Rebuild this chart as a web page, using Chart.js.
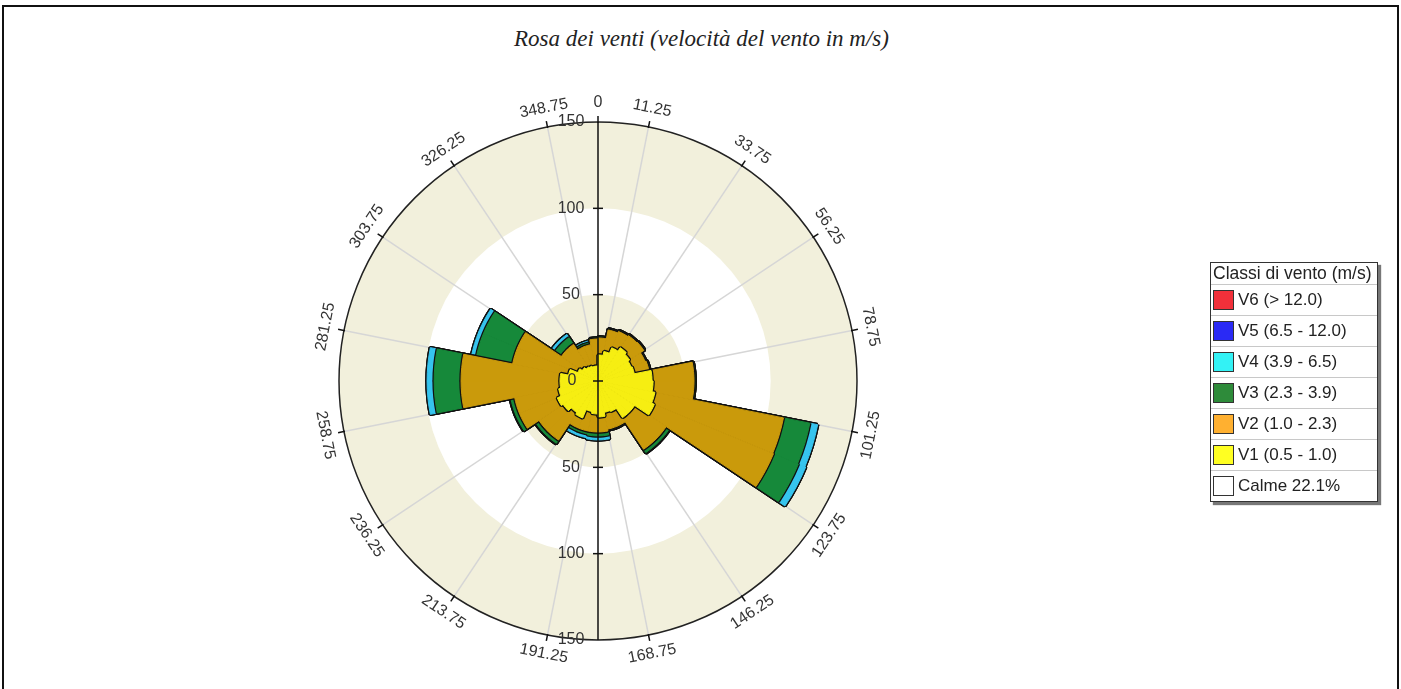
<!DOCTYPE html>
<html lang="it">
<head>
<meta charset="UTF-8">
<title>Rosa dei venti</title>
<script src="https://cdn.jsdelivr.net/npm/chart.js"></script>
<style>
    html, body { margin: 0; padding: 0; background: #fff; }
    body { width: 1401px; height: 689px; overflow: hidden; position: relative; font-family: "Liberation Sans", Arial, sans-serif; }
    #frame { position: absolute; left: 2px; top: 5px; width: 1393px; height: 720px; border: 2px solid #111; }
    #title { position: absolute; left: 1px; top: 26px; width: 1401px; text-align: center; line-height: 27px;
             font: italic 23px "Liberation Serif", "Times New Roman", serif; color: #222; }
    #chart-box { position: absolute; left: 0; top: 0; width: 1401px; height: 689px; }
    #legend { position: absolute; left: 1210px; top: 262px; width: 166px; background: #fff;
              border: 1px solid #333; box-shadow: 3px 3px 1px #777; font-size: 17px; color: #222; }
    #legend .lg-title { height: 21px; line-height: 20px; padding-left: 2px; white-space: nowrap; font-size: 17.5px; }
    #legend .lg-row { height: 30px; border-top: 1px solid #c8c8c8; display: flex; align-items: center; white-space: nowrap; }
    #legend .sw { width: 19px; height: 18px; border: 1px solid #333; margin: 0 4px 0 2px; }
</style>
</head>
<body>
<div id="frame"></div>
<div id="title">Rosa dei venti (velocità del vento in m/s)</div>
<div id="chart-box"><canvas id="rose"></canvas></div>
<div id="legend">
    <div class="lg-title">Classi di vento (m/s)</div>
    <div id="legend-rows"></div>
</div>

<script>
// 32 settori da 11.25 gradi, il primo parte da 348.75
const angleLabels = ['348.75', '0', '11.25', '', '33.75', '', '56.25', '', '78.75', '', '101.25', '',
    '123.75', '', '146.25', '', '168.75', '', '191.25', '', '213.75', '', '236.25', '',
    '258.75', '', '281.25', '', '303.75', '', '326.25', ''];
const radialTicks = [0, 50, 100, 150];

const v1 = [8.7, 15.1, 17.4, 20.8, 23.2, 22.0, 20.8, 21.4, 31.3, 31.9, 33.6, 35.3, 25.5, 25.5, 19.1, 18.5,
    20.8, 19.1, 18.0, 23.2, 22.0, 24.3, 25.5, 23.2, 22.0, 22.0, 17.4, 12.7, 11.0, 9.8, 9.3, 8.7];
const v2 = [15.6, 9.8, 12.7, 10.2, 8.4, 9.9, 8.7, 8.7, 24.3, 23.7, 75.9, 74.7, 22.0, 22.0, 9.3, 9.9,
    8.7, 10.4, 11.5, 6.3, 19.1, 16.8, 23.7, 26.0, 57.3, 57.3, 33.0, 37.7, 14.5, 15.7, 12.1, 12.7];
const v3 = [0.6, 0.6, 0.6, 0.6, 0.6, 0.6, 0.6, 0.6, 0.6, 0.6, 15.6, 15.6, 2.3, 2.3, 0.6, 0.6,
    2.3, 2.3, 1.7, 1.7, 2.3, 2.3, 2.3, 2.3, 15.6, 15.6, 21.4, 21.4, 4.6, 4.6, 1.2, 1.2];
const v4 = [0, 0, 0, 0, 0, 0, 0, 0, 0, 0, 4.6, 4.6, 0.3, 0.3, 0, 0,
    2.3, 2.3, 2.3, 2.3, 0.3, 0.3, 0.3, 0.3, 4.1, 4.1, 2.9, 2.9, 2.3, 2.3, 1.2, 1.2];
const v5 = [0, 0, 0, 0, 0, 0, 0, 0, 0, 0, 0, 0, 0, 0, 0, 0,
    0, 0, 0, 0, 0, 0, 0, 0, 0, 0, 0, 0, 0, 0, 0, 0];
const v6 = [0, 0, 0, 0, 0, 0, 0, 0, 0, 0, 0, 0, 0, 0, 0, 0,
    0, 0, 0, 0, 0, 0, 0, 0, 0, 0, 0, 0, 0, 0, 0, 0];
const classNames = ['V1 (0.5 - 1.0)', 'V2 (1.0 - 2.3)', 'V3 (2.3 - 3.9)', 'V4 (3.9 - 6.5)', 'V5 (6.5 - 12.0)', 'V6 (> 12.0)'];
const calmPercent = 22.1;

const fillColors = ['#f6ee12', '#ca9a0b', '#16893a', '#36c4ee', '#2222ee', '#ee2a2a'];
const legendColors = ['#ffff22', '#ffb030', '#2e8b3a', '#33f2f5', '#2a2af5', '#f2303a'];

// legenda
const rows = document.getElementById('legend-rows');
for (let k = classNames.length - 1; k >= 0; k--) {
    rows.insertAdjacentHTML('beforeend',
        '<div class="lg-row"><div class="sw" style="background:' + legendColors[k] + '"></div>' + classNames[k] + '</div>');
}
rows.insertAdjacentHTML('beforeend', '<div class="lg-row"><div class="sw" style="background:#fff"></div>Calme ' + calmPercent + '%</div>');

// cumulate: il primo dataset viene disegnato per ultimo (sopra)
const datasets = [];
let cum = v1.map(() => 0);
[v1, v2, v3, v4, v5, v6].forEach((vals, k) => {
    cum = cum.map((c, i) => c + vals[i]);
    datasets.push({ label: classNames[k], data: cum.slice(),
        backgroundColor: fillColors[k], borderColor: fillColors[k], borderWidth: 1 });
    datasets.push({ label: classNames[k] + ' bordo', data: cum.slice(),
        backgroundColor: '#111', borderColor: '#111', borderWidth: 3.5 });
});

const roseDecor = {
    id: 'roseDecor',
    beforeDraw(chart) {
        const s = chart.scales.r, ctx = chart.ctx;
        const bandColors = ['#f2f0dc', '#ffffff', '#f2f0dc'];
        ctx.save();
        [150, 100, 50].forEach((v, k) => {
            ctx.beginPath();
            ctx.arc(s.xCenter, s.yCenter, s.getDistanceFromCenterForValue(v), 0, 2 * Math.PI);
            ctx.fillStyle = bandColors[k];
            ctx.fill();
        });
        ctx.restore();
    },
    afterDatasetsDraw(chart) {
        const s = chart.scales.r, ctx = chart.ctx;
        const cx = s.xCenter, cy = s.yCenter;
        const R = s.getDistanceFromCenterForValue(s.max);
        ctx.save();
        ctx.strokeStyle = '#222';
        ctx.lineWidth = 1.5;
        ctx.beginPath();
        ctx.arc(cx, cy, R, 0, 2 * Math.PI);
        ctx.stroke();

        // asse verticale
        ctx.strokeStyle = '#111';
        ctx.beginPath();
        ctx.moveTo(cx, cy - R);
        ctx.lineTo(cx, cy + R);
        ctx.stroke();

        ctx.font = '16px "Liberation Sans", Arial, sans-serif';
        ctx.fillStyle = '#333';
        ctx.textAlign = 'center';
        ctx.textBaseline = 'middle';

        radialTicks.forEach(v => {
            const d = s.getDistanceFromCenterForValue(v);
            [-1, 1].forEach(sign => {
                if (v === 0 && sign === 1) return;
                const y = cy + sign * d;
                if (v < s.max) {
                    ctx.beginPath();
                    ctx.moveTo(cx - 5, y);
                    ctx.lineTo(cx + 5, y);
                    ctx.stroke();
                }
                ctx.fillText(String(v), cx - (v === 0 ? 26 : 27), y);
            });
        });

        // etichette angolari
        angleLabels.forEach((lab, i) => {
            if (lab === '') return;
            const p1 = s.getPointPosition(i, R - 1);
            const p2 = s.getPointPosition(i, R + 6);
            ctx.beginPath();
            ctx.moveTo(p1.x, p1.y);
            ctx.lineTo(p2.x, p2.y);
            ctx.stroke();
            const p = s.getPointPosition(i, R + 19);
            const deg = s.getIndexAngle(i) * 180 / Math.PI;
            const rot = (deg > 90 && deg < 270) ? deg - 180 : deg;
            ctx.save();
            ctx.translate(p.x, p.y);
            ctx.rotate(rot * Math.PI / 180);
            ctx.fillText(lab, 0, 0);
            ctx.restore();
        });
        ctx.restore();
    }
};

new Chart(document.getElementById('rose'), {
    type: 'polarArea',
    data: { labels: angleLabels, datasets: datasets },
    options: {
        responsive: true,
        maintainAspectRatio: false,
        animation: false,
        layout: { padding: { left: 339, right: 544, top: 122, bottom: 49 } },
        plugins: {
            legend: { display: false },
            tooltip: { enabled: false }
        },
        scales: {
            r: {
                min: 0,
                max: 150,
                startAngle: -11.25,
                ticks: { display: false, stepSize: 50 },
                grid: { display: false },
                angleLines: {
                    display: true,
                    lineWidth: 1.5,
                    color: c => c.index % 2 === 0 ? '#d6d6d6' : 'rgba(0,0,0,0)'
                },
                pointLabels: { display: false }
            }
        }
    },
    plugins: [roseDecor]
});
</script>
</body>
</html>
